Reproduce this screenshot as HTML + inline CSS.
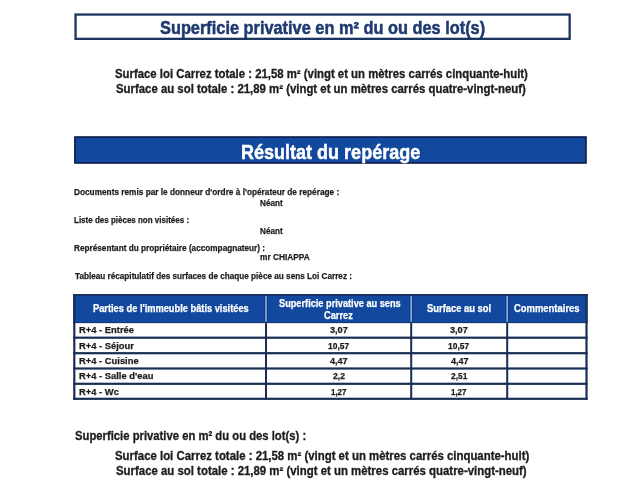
<!DOCTYPE html>
<html lang="fr">
<head>
<meta charset="utf-8">
<title>Superficie privative – Résultat du repérage</title>
<style>
html,body{margin:0;padding:0;background:#fff;}
body{width:640px;height:501px;position:relative;overflow:hidden;font-family:"Liberation Sans",sans-serif;font-weight:bold;}
svg.bg{position:absolute;left:0;top:0;}
.t{position:absolute;display:block;white-space:nowrap;transform-origin:0 0;margin:0;padding:0;font-weight:bold;}
table{border-collapse:collapse;border:0;margin:0;padding:0;}
th,td{padding:0;border:0;}
dl,dt,dd{margin:0;padding:0;}
</style>
</head>
<body>
<svg class="bg" width="640" height="501" viewBox="0 0 640 501">
<rect x="75.55" y="14.55" width="494.1" height="24.3" fill="#fff" stroke="#1b3560" stroke-width="2.3"/>
<rect x="74.9" y="137" width="511.1" height="26" fill="#12499e" stroke="#0a1c48" stroke-width="1.6"/>
<rect x="73.2" y="294" width="514.4" height="29.1" fill="#12499e"/>
<rect x="73.2" y="294" width="514.4" height="1.6" fill="#192e55"/>
<rect x="73.2" y="322" width="514.4" height="1.1" fill="#192e55" opacity="0.55"/>
<rect x="264.2" y="295.6" width="3.6" height="27" fill="#192e55" opacity="0.45"/>
<rect x="265.2" y="296" width="1.6" height="25.8" fill="#86b0e6"/>
<rect x="265" y="323.1" width="2" height="76.6" fill="#192e55"/>
<rect x="409.4" y="295.6" width="3.6" height="27" fill="#192e55" opacity="0.45"/>
<rect x="410.4" y="296" width="1.6" height="25.8" fill="#86b0e6"/>
<rect x="410.2" y="323.1" width="2" height="76.6" fill="#192e55"/>
<rect x="505.4" y="295.6" width="3.6" height="27" fill="#192e55" opacity="0.45"/>
<rect x="506.4" y="296" width="1.6" height="25.8" fill="#86b0e6"/>
<rect x="506.2" y="323.1" width="2" height="76.6" fill="#192e55"/>
<rect x="73.2" y="294" width="2.2" height="105.8" fill="#192e55"/>
<rect x="585.4" y="294" width="2.2" height="105.8" fill="#192e55"/>
<rect x="73.2" y="336.59999999999997" width="514.4" height="2.2" fill="#192e55"/>
<rect x="73.2" y="352.09999999999997" width="514.4" height="2.2" fill="#192e55"/>
<rect x="73.2" y="367.4" width="514.4" height="2.2" fill="#192e55"/>
<rect x="73.2" y="382.7" width="514.4" height="2.2" fill="#192e55"/>
<rect x="73.2" y="397.7" width="514.4" height="2.2" fill="#192e55"/>
</svg>
<main>
<header><h1 class="t" style="left:159.87px;top:18.00px;font-size:17.9px;line-height:21.48px;color:#1f3a70;-webkit-text-stroke:0.5px #1f3a70;transform:scaleX(0.9135)">Superficie privative en m² du ou des lot(s)</h1></header>
<section><p class="t" style="left:115.26px;top:67.00px;font-size:11.9px;line-height:14.28px;color:#1c1c1c;-webkit-text-stroke:0.3px #1c1c1c;transform:scaleX(0.9554)">Surface loi Carrez totale : 21,58 m² (vingt et un mètres carrés cinquante-huit)</p><p class="t" style="left:116.26px;top:82.00px;font-size:11.9px;line-height:14.28px;color:#1c1c1c;-webkit-text-stroke:0.3px #1c1c1c;transform:scaleX(0.9573)">Surface au sol totale : 21,89 m² (vingt et un mètres carrés quatre-vingt-neuf)</p></section>
<section>
<h2 class="t" style="left:240.93px;top:139.00px;font-size:21px;line-height:25.2px;color:#ffffff;-webkit-text-stroke:0.5px #ffffff;transform:scaleX(0.8579)">Résultat du repérage</h2>
<dl><dt class="t" style="left:74.45px;top:187.00px;font-size:9.2px;line-height:11.04px;color:#1c1c1c;-webkit-text-stroke:0.25px #1c1c1c;transform:scaleX(0.8993)">Documents remis par le donneur d'ordre à l'opérateur de repérage :</dt><dd class="t" style="left:260.26px;top:198.00px;font-size:9.2px;line-height:11.04px;color:#1c1c1c;-webkit-text-stroke:0.25px #1c1c1c;transform:scaleX(0.8876)">Néant</dd><dt class="t" style="left:74.46px;top:215.00px;font-size:9.2px;line-height:11.04px;color:#1c1c1c;-webkit-text-stroke:0.25px #1c1c1c;transform:scaleX(0.8702)">Liste des pièces non visitées :</dt><dd class="t" style="left:260.26px;top:226.00px;font-size:9.2px;line-height:11.04px;color:#1c1c1c;-webkit-text-stroke:0.25px #1c1c1c;transform:scaleX(0.8876)">Néant</dd><dt class="t" style="left:74.45px;top:243.00px;font-size:9.2px;line-height:11.04px;color:#1c1c1c;-webkit-text-stroke:0.25px #1c1c1c;transform:scaleX(0.8930)">Représentant du propriétaire (accompagnateur) :</dt><dd class="t" style="left:260.15px;top:252.00px;font-size:9.2px;line-height:11.04px;color:#1c1c1c;-webkit-text-stroke:0.25px #1c1c1c;transform:scaleX(0.9048)">mr CHIAPPA</dd></dl>
<p class="t" style="left:74.90px;top:271.00px;font-size:9.2px;line-height:11.04px;color:#1c1c1c;-webkit-text-stroke:0.25px #1c1c1c;transform:scaleX(0.8897)">Tableau récapitulatif des surfaces de chaque pièce au sens Loi Carrez :</p>
<table>
<thead><tr><th><span class="t" style="left:92.94px;top:303.00px;font-size:10px;line-height:12.0px;color:#ffffff;-webkit-text-stroke:0.25px #ffffff;transform:scaleX(0.9268)">Parties de l'immeuble bâtis visitées</span></th><th><span class="t" style="left:278.59px;top:298.00px;font-size:10px;line-height:12.0px;color:#ffffff;-webkit-text-stroke:0.25px #ffffff;transform:scaleX(0.9198)">Superficie privative au sens</span><span class="t" style="left:323.97px;top:310.00px;font-size:10px;line-height:12.0px;color:#ffffff;-webkit-text-stroke:0.25px #ffffff;transform:scaleX(0.9241)">Carrez</span></th><th><span class="t" style="left:427.38px;top:303.00px;font-size:10px;line-height:12.0px;color:#ffffff;-webkit-text-stroke:0.25px #ffffff;transform:scaleX(0.9390)">Surface au sol</span></th><th><span class="t" style="left:514.46px;top:303.00px;font-size:10px;line-height:12.0px;color:#ffffff;-webkit-text-stroke:0.25px #ffffff;transform:scaleX(0.9437)">Commentaires</span></th></tr></thead>
<tbody>
<tr><td><span class="t" style="left:78.69px;top:325.00px;font-size:9.2px;line-height:11.04px;color:#1c1c1c;-webkit-text-stroke:0.25px #1c1c1c;transform:scaleX(1.0200)">R+4 - Entrée</span></td><td><span class="t" style="left:329.98px;top:325.00px;font-size:9.2px;line-height:11.04px;color:#1c1c1c;-webkit-text-stroke:0.25px #1c1c1c;transform:scaleX(0.9943)">3,07</span></td><td><span class="t" style="left:450.38px;top:325.00px;font-size:9.2px;line-height:11.04px;color:#1c1c1c;-webkit-text-stroke:0.25px #1c1c1c;transform:scaleX(0.9943)">3,07</span></td><td></td></tr>
<tr><td><span class="t" style="left:78.69px;top:341.00px;font-size:9.2px;line-height:11.04px;color:#1c1c1c;-webkit-text-stroke:0.25px #1c1c1c;transform:scaleX(1.0200)">R+4 - Séjour</span></td><td><span class="t" style="left:328.09px;top:341.00px;font-size:9.2px;line-height:11.04px;color:#1c1c1c;-webkit-text-stroke:0.25px #1c1c1c;transform:scaleX(0.9213)">10,57</span></td><td><span class="t" style="left:448.49px;top:341.00px;font-size:9.2px;line-height:11.04px;color:#1c1c1c;-webkit-text-stroke:0.25px #1c1c1c;transform:scaleX(0.9213)">10,57</span></td><td></td></tr>
<tr><td><span class="t" style="left:78.69px;top:356.00px;font-size:9.2px;line-height:11.04px;color:#1c1c1c;-webkit-text-stroke:0.25px #1c1c1c;transform:scaleX(1.0200)">R+4 - Cuisine</span></td><td><span class="t" style="left:330.10px;top:356.00px;font-size:9.2px;line-height:11.04px;color:#1c1c1c;-webkit-text-stroke:0.25px #1c1c1c;transform:scaleX(0.9872)">4,47</span></td><td><span class="t" style="left:450.50px;top:356.00px;font-size:9.2px;line-height:11.04px;color:#1c1c1c;-webkit-text-stroke:0.25px #1c1c1c;transform:scaleX(0.9872)">4,47</span></td><td></td></tr>
<tr><td><span class="t" style="left:78.69px;top:371.00px;font-size:9.2px;line-height:11.04px;color:#1c1c1c;-webkit-text-stroke:0.25px #1c1c1c;transform:scaleX(1.0200)">R+4 - Salle d'eau</span></td><td><span class="t" style="left:332.87px;top:371.00px;font-size:9.2px;line-height:11.04px;color:#1c1c1c;-webkit-text-stroke:0.25px #1c1c1c;transform:scaleX(0.9306)">2,2</span></td><td><span class="t" style="left:450.97px;top:371.00px;font-size:9.2px;line-height:11.04px;color:#1c1c1c;-webkit-text-stroke:0.25px #1c1c1c;transform:scaleX(0.9143)">2,51</span></td><td></td></tr>
<tr><td><span class="t" style="left:78.69px;top:387.00px;font-size:9.2px;line-height:11.04px;color:#1c1c1c;-webkit-text-stroke:0.25px #1c1c1c;transform:scaleX(1.0200)">R+4 - Wc</span></td><td><span class="t" style="left:330.97px;top:387.00px;font-size:9.2px;line-height:11.04px;color:#1c1c1c;-webkit-text-stroke:0.25px #1c1c1c;transform:scaleX(0.8642)">1,27</span></td><td><span class="t" style="left:451.37px;top:387.00px;font-size:9.2px;line-height:11.04px;color:#1c1c1c;-webkit-text-stroke:0.25px #1c1c1c;transform:scaleX(0.8642)">1,27</span></td><td></td></tr>
</tbody></table>
</section>
<section><h3 class="t" style="left:74.57px;top:429.00px;font-size:12.2px;line-height:14.64px;color:#1c1c1c;-webkit-text-stroke:0.3px #1c1c1c;transform:scaleX(0.9250)">Superficie privative en m² du ou des lot(s) :</h3><p class="t" style="left:115.36px;top:449.00px;font-size:11.9px;line-height:14.28px;color:#1c1c1c;-webkit-text-stroke:0.3px #1c1c1c;transform:scaleX(0.9587)">Surface loi Carrez totale : 21,58 m² (vingt et un mètres carrés cinquante-huit)</p><p class="t" style="left:116.26px;top:464.00px;font-size:11.9px;line-height:14.28px;color:#1c1c1c;-webkit-text-stroke:0.3px #1c1c1c;transform:scaleX(0.9590)">Surface au sol totale : 21,89 m² (vingt et un mètres carrés quatre-vingt-neuf)</p></section>
</main>
</body>
</html>
